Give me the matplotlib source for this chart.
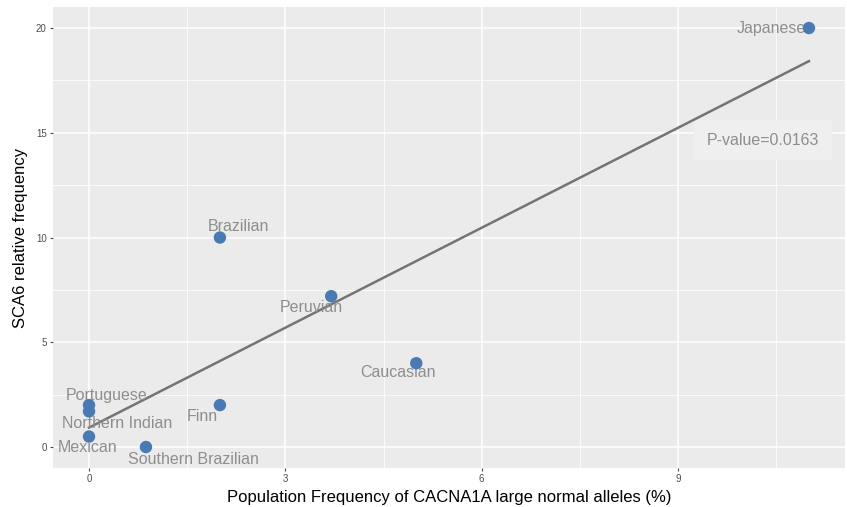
import numpy as np
import matplotlib.pyplot as plt

plt.rcParams['font.family'] = ['Liberation Sans', 'DejaVu Sans']

# population frequency of large normal alleles (%) vs SCA6 relative frequency
populations = ['Japanese', 'Brazilian', 'Peruvian', 'Caucasian', 'Finn',
               'Portuguese', 'Northern Indian', 'Mexican', 'Southern Brazilian']
allele_freq = [11.0, 2.0, 3.7, 5.0, 2.0, 0.0, 0.0, 0.0, 0.87]
sca6_freq = [20.0, 10.0, 7.2, 4.0, 2.0, 2.0, 1.7, 0.5, 0.0]
p_value = 0.0163

# label offsets in points (dx, dy)
label_offsets = {
    'Japanese': (-27, 0),
    'Brazilian': (13, 8),
    'Peruvian': (-14, -8),
    'Caucasian': (-13, -7),
    'Finn': (-13, -8),
    'Portuguese': (13, 7),
    'Northern Indian': (20, -9),
    'Mexican': (-1, -8),
    'Southern Brazilian': (34, -9),
}

fig = plt.figure(figsize=(8.47, 5.07), dpi=100)
ax = fig.add_axes([0.0626, 0.077, 0.935, 0.909])
ax.set_facecolor('#ebebeb')

x = np.array(allele_freq)
y = np.array(sca6_freq)

# linear fit across the data range
slope, intercept = np.polyfit(x, y, 1)
xs = np.array([x.min(), x.max()])
ax.plot(xs, slope * xs + intercept, color='#747474', lw=1.8, zorder=3)

for name, xi, yi in zip(populations, x, y):
    dx, dy = label_offsets[name]
    ax.annotate(name, (xi, yi), xytext=(dx, dy), textcoords='offset points',
                ha='center', va='center', fontsize=11.5, color='#8e8e8e', zorder=4)

ax.scatter(x, y, s=80, color='#4a7ab4', edgecolors='none', zorder=5)

ax.text(10.3, 14.65, 'P-value=%.4f' % p_value, ha='center', va='center',
        fontsize=11.5, color='#8e8e8e', zorder=2.5,
        bbox=dict(boxstyle='square,pad=0.8', facecolor='#efefef', edgecolor='none'))

ax.set_xlim(-0.55, 11.55)
ax.set_ylim(-1, 21)
ax.set_xticks([0, 3, 6, 9])
ax.set_yticks([0, 5, 10, 15, 20])
ax.set_xticks([1.5, 4.5, 7.5, 10.5], minor=True)
ax.set_yticks([2.5, 7.5, 12.5, 17.5], minor=True)
ax.grid(which='major', color='white', lw=1.1)
ax.grid(which='minor', color='white', lw=0.55)
ax.set_axisbelow(True)
ax.tick_params(which='major', length=2.5, color='#4d4d4d', labelsize=7,
               labelcolor='#4d4d4d', pad=2)
ax.tick_params(which='minor', length=0)
for spine in ax.spines.values():
    spine.set_visible(False)

ax.set_xlabel('Population Frequency of CACNA1A large normal alleles (%)',
              fontsize=12, color='black', labelpad=4)
ax.set_ylabel('SCA6 relative frequency', fontsize=12, color='black', labelpad=6)

fig.savefig('out.png', dpi=100)
